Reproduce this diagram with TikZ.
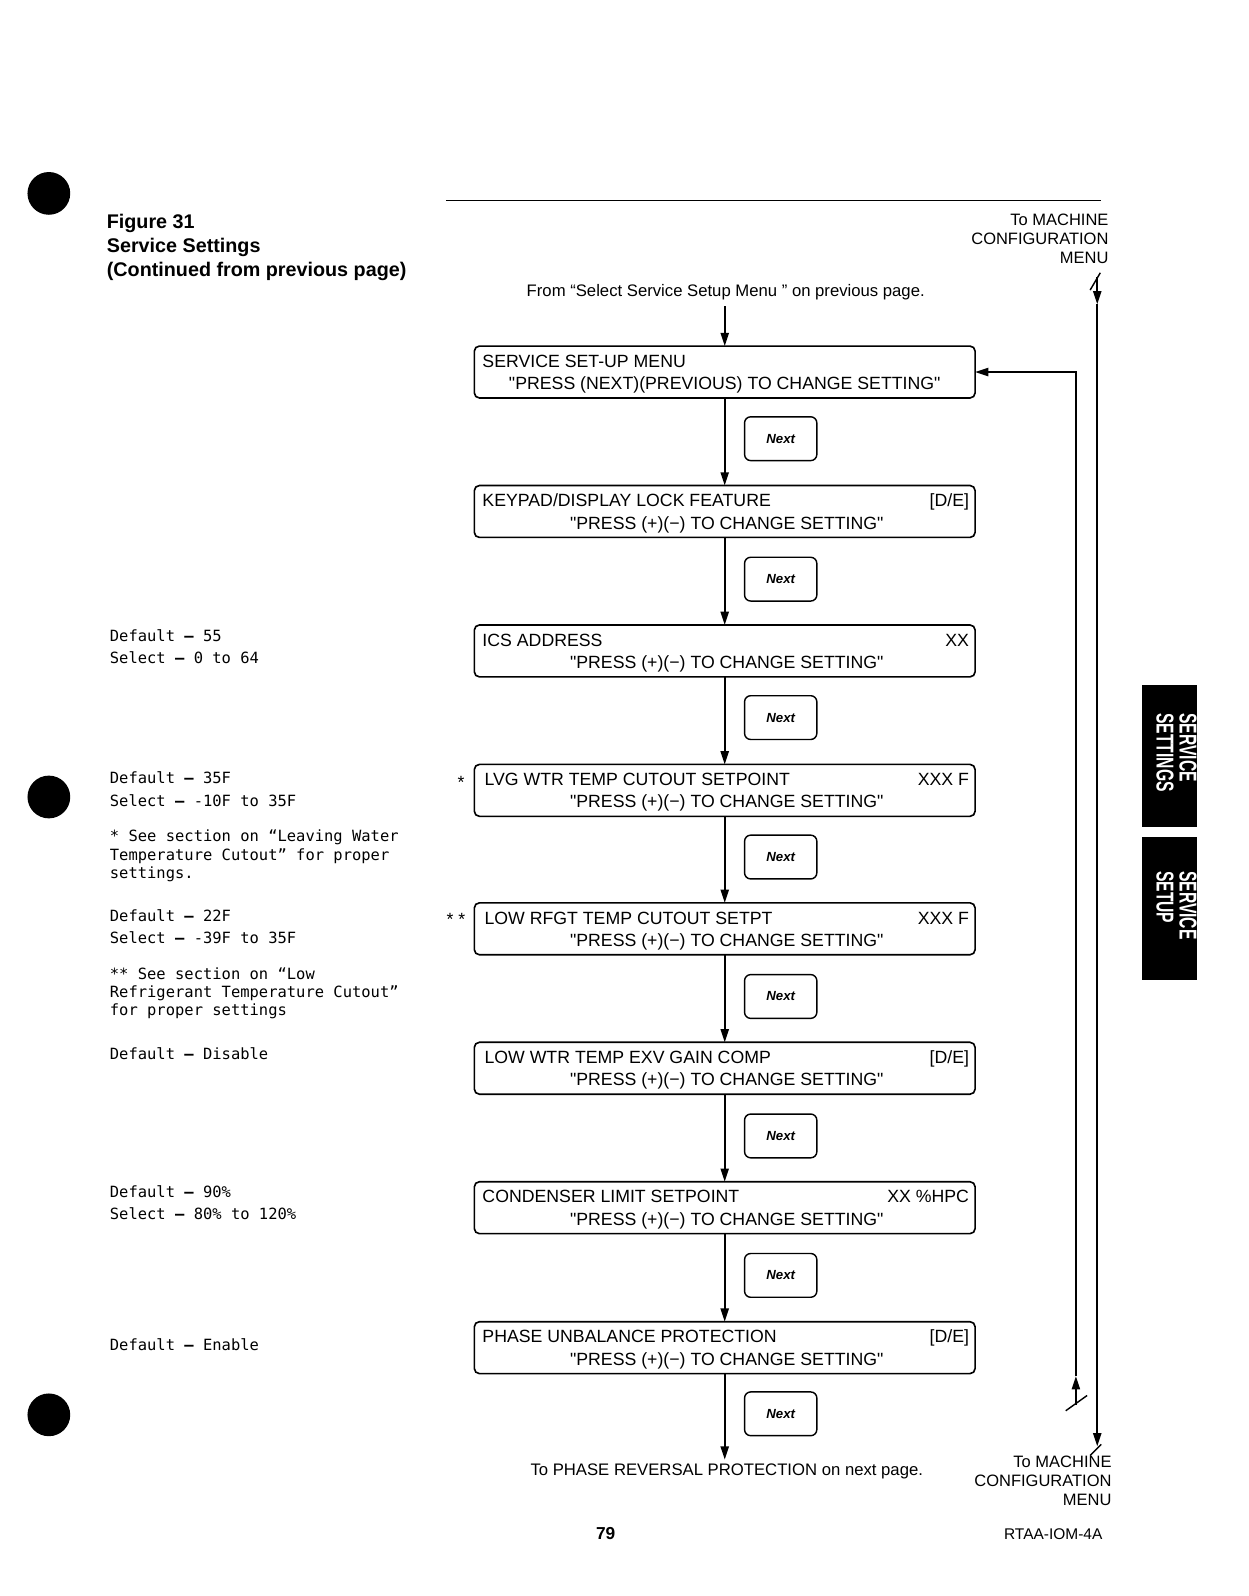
\documentclass[tikz,border=0pt]{standalone}
\usepackage{fontspec}
\setmainfont{Liberation Sans}[Ligatures=TeXOff]
\newfontfamily\monof{DejaVu Sans Mono}
\usetikzlibrary{arrows.meta}
\def\qq{\char34\relax}
\newcommand\dd{\textbf{–}}
\begin{document}
\begin{tikzpicture}[x=0.5pt,y=-0.5pt,
  every node/.style={inner sep=0pt, outer sep=0pt},
  menubox/.style={draw, line width=0.8pt, rounded corners=2.5pt, minimum width=246pt, minimum height=25.5pt},
  nextbox/.style={draw, line width=0.7pt, rounded corners=3pt, minimum width=35.5pt, minimum height=21.5pt, font=\fontsize{6.5}{7}\selectfont\bfseries\itshape},
  boxtxt/.style={font=\fontsize{8.7}{10}\selectfont, text height=6.3pt, text depth=0pt},
  flow/.style={line width=0.9pt, -{Triangle[length=6.5pt,width=4pt]}},
  note/.style={anchor=base west, font=\monof\fontsize{7.6}{9}\selectfont},
  hdr/.style={anchor=base west, font=\fontsize{9.7}{12}\selectfont\bfseries},
  rtxt/.style={font=\fontsize{8.1}{9.5}\selectfont, align=right},
  ctxt/.style={font=\fontsize{8.2}{10}\selectfont, text height=6pt, text depth=0pt},
  tabtxt/.style={text=white, rotate=-90, anchor=west, font=\fontsize{12}{10}\selectfont\bfseries},
  tick/.style={line width=0.7pt}
]
\useasboundingbox (0,0) rectangle (1227,1568);

% bullets
\fill (48,190) circle[radius=21];
\fill (48,783) circle[radius=21];
\fill (48,1390) circle[radius=21];

% top rule
\draw[line width=0.6pt] (438,197) -- (1082,197);

% title
\node[hdr] (t1) at (105,224) {Figure 31};
\node[hdr] (t2) at (105,248) {Service Settings};
\node[hdr] (t3) at (105,272) {(Continued from previous page)};

% side tabs
\fill (1122,673) rectangle (1176,812);
\fill (1122,822) rectangle (1176,963);
\node[tabtxt] (tab1) at (1153,701) {\scalebox{0.64}[1]{\begin{tabular}{@{}l@{}}SERVICE\\SETTINGS\end{tabular}}};
\node[tabtxt] (tab2) at (1153,856) {\scalebox{0.64}[1]{\begin{tabular}{@{}l@{}}SERVICE\\SETUP\end{tabular}}};

% right texts
\node[rtxt, anchor=north east] (mtop) at (1089,210) {To MACHINE\\CONFIGURATION\\MENU};
\node[rtxt, anchor=north east] (mbot) at (1092,1430) {To MACHINE\\CONFIGURATION\\MENU};

% from / to texts
\node[ctxt] (from) at (713,285) {From “Select Service Setup Menu ” on previous page.};
\node[ctxt] (topr) at (714,1444) {To PHASE REVERSAL PROTECTION on next page.};

% menu boxes
\node[menubox] (b1) at (712,365.5) {};
\node[menubox] (b2) at (712,502.5) {};
\node[menubox] (b3) at (712,639.5) {};
\node[menubox] (b4) at (712,776.5) {};
\node[menubox] (b5) at (712,912.5) {};
\node[menubox] (b6) at (712,1049.5) {};
\node[menubox] (b7) at (712,1186.5) {};
\node[menubox] (b8) at (712,1324) {};

% box texts
\node[boxtxt, anchor=west] (b1a) at ([xshift=4pt,yshift=5.5pt]b1.west) {SERVICE SET-UP MENU};
\node[boxtxt] (b1b) at ([yshift=-5.5pt]b1.center) {\qq PRESS (NEXT)(PREVIOUS) TO CHANGE SETTING\qq};

\node[boxtxt, anchor=west] (b2a) at ([xshift=4pt,yshift=5.5pt]b2.west) {KEYPAD/DISPLAY LOCK FEATURE};
\node[boxtxt, anchor=east] (b2c) at ([xshift=-3pt,yshift=5.5pt]b2.east) {[D/E]};
\node[boxtxt] (b2b) at ([xshift=1pt,yshift=-5.5pt]b2.center) {\qq PRESS (+)(−) TO CHANGE SETTING\qq};

\node[boxtxt, anchor=west] (b3a) at ([xshift=4pt,yshift=5.5pt]b3.west) {ICS ADDRESS};
\node[boxtxt, anchor=east] (b3c) at ([xshift=-3pt,yshift=5.5pt]b3.east) {XX};
\node[boxtxt] (b3b) at ([xshift=1pt,yshift=-5.5pt]b3.center) {\qq PRESS (+)(−) TO CHANGE SETTING\qq};

\node[boxtxt, anchor=west] (b4a) at ([xshift=5pt,yshift=5.5pt]b4.west) {LVG WTR TEMP CUTOUT SETPOINT};
\node[boxtxt, anchor=east] (b4c) at ([xshift=-3pt,yshift=5.5pt]b4.east) {XXX F};
\node[boxtxt] (b4b) at ([xshift=1pt,yshift=-5.5pt]b4.center) {\qq PRESS (+)(−) TO CHANGE SETTING\qq};

\node[boxtxt, anchor=west] (b5a) at ([xshift=5pt,yshift=5.5pt]b5.west) {LOW RFGT TEMP CUTOUT SETPT};
\node[boxtxt, anchor=east] (b5c) at ([xshift=-3pt,yshift=5.5pt]b5.east) {XXX F};
\node[boxtxt] (b5b) at ([xshift=1pt,yshift=-5.5pt]b5.center) {\qq PRESS (+)(−) TO CHANGE SETTING\qq};

\node[boxtxt, anchor=west] (b6a) at ([xshift=5pt,yshift=5.5pt]b6.west) {LOW WTR TEMP EXV GAIN COMP};
\node[boxtxt, anchor=east] (b6c) at ([xshift=-3pt,yshift=5.5pt]b6.east) {[D/E]};
\node[boxtxt] (b6b) at ([xshift=1pt,yshift=-5.5pt]b6.center) {\qq PRESS (+)(−) TO CHANGE SETTING\qq};

\node[boxtxt, anchor=west] (b7a) at ([xshift=4pt,yshift=5.5pt]b7.west) {CONDENSER LIMIT SETPOINT};
\node[boxtxt, anchor=east] (b7c) at ([xshift=-3pt,yshift=5.5pt]b7.east) {XX \%HPC};
\node[boxtxt] (b7b) at ([xshift=1pt,yshift=-5.5pt]b7.center) {\qq PRESS (+)(−) TO CHANGE SETTING\qq};

\node[boxtxt, anchor=west] (b8a) at ([xshift=4pt,yshift=5.5pt]b8.west) {PHASE UNBALANCE PROTECTION};
\node[boxtxt, anchor=east] (b8c) at ([xshift=-3pt,yshift=5.5pt]b8.east) {[D/E]};
\node[boxtxt] (b8b) at ([xshift=1pt,yshift=-5.5pt]b8.center) {\qq PRESS (+)(−) TO CHANGE SETTING\qq};

% asterisks
\node[boxtxt] (ast1) at (453,768) {*};
\node[boxtxt] (ast2) at (448,903) {* *};

% next boxes
\node[nextbox] (n1) at (767,431) {Next};
\node[nextbox] (n2) at (767,569) {Next};
\node[nextbox] (n3) at (767,705) {Next};
\node[nextbox] (n4) at (767,842) {Next};
\node[nextbox] (n5) at (767,979) {Next};
\node[nextbox] (n6) at (767,1116) {Next};
\node[nextbox] (n7) at (767,1253) {Next};
\node[nextbox] (n8) at (767,1389) {Next};

% main flow
\draw[flow] ([yshift=-5pt]from.south -| b1.north) -- (b1.north);
\draw[flow] (b1.south) -- (b2.north);
\draw[flow] (b2.south) -- (b3.north);
\draw[flow] (b3.south) -- (b4.north);
\draw[flow] (b4.south) -- (b5.north);
\draw[flow] (b5.south) -- (b6.north);
\draw[flow] (b6.south) -- (b7.north);
\draw[flow] (b7.south) -- (b8.north);
\draw[flow] (b8.south) -- ([yshift=2pt]b8.south |- topr.north);

% right return lines
\coordinate (oT) at (1078,272);
\coordinate (oA) at (1078,299);
\coordinate (oB) at (1078,1421);
\draw[flow] (oT) -- (oA);
\draw[flow] (oA) -- (oB);
\draw[tick] (1071,285) -- (1081,268);
\draw[tick] (1071,1430) -- (1082,1419);

\coordinate (iB) at (1057,1380);
\coordinate (iA) at (1057,1352);
\draw[flow] (iB) -- (iA);
\draw[flow] (iA) |- (b1.east);
\draw[tick] (1047,1386) -- (1068,1371);

% left notes
\node[note] (d1) at (108,630) {Default \dd{} 55};
\node[note] (s1) at (108,652) {Select \dd{} 0 to 64};
\node[note] (d2) at (108,770) {Default \dd{} 35F};
\node[note] (s2) at (108,792) {Select \dd{} -10F to 35F};
\node[note] (r1) at (108,827) {* See section on “Leaving Water};
\node[note] (r2) at (108,845) {Temperature Cutout” for proper};
\node[note] (r3) at (108,863) {settings.};
\node[note] (d3) at (108,905) {Default \dd{} 22F};
\node[note] (s3) at (108,927) {Select \dd{} -39F to 35F};
\node[note] (q1) at (108,962) {** See section on “Low};
\node[note] (q2) at (108,980) {Refrigerant Temperature Cutout”};
\node[note] (q3) at (108,998) {for proper settings};
\node[note] (d4) at (108,1041) {Default \dd{} Disable};
\node[note] (d5) at (108,1176) {Default \dd{} 90\%};
\node[note] (s5) at (108,1198) {Select \dd{} 80\% to 120\%};
\node[note] (d6) at (108,1327) {Default \dd{} Enable};

% footer
\node[font=\fontsize{8.5}{10}\selectfont\bfseries] (pg) at (595,1507) {79};
\node[font=\fontsize{7.6}{9}\selectfont, anchor=east] (doc) at (1083,1507) {RTAA-IOM-4A};
\end{tikzpicture}
\end{document}
